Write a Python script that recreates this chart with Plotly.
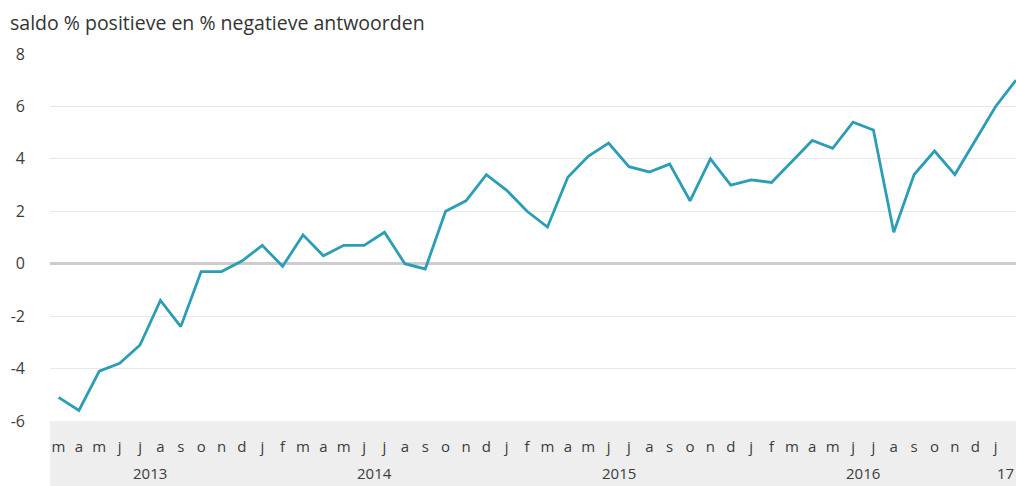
import plotly.graph_objects as go

# Data, monthly from March 2013 to February 2017
month_labels = ["m", "a", "m", "j", "j", "a", "s", "o", "n", "d",
                "j", "f", "m", "a", "m", "j", "j", "a", "s", "o", "n", "d",
                "j", "f", "m", "a", "m", "j", "j", "a", "s", "o", "n", "d",
                "j", "f", "m", "a", "m", "j", "j", "a", "s", "o", "n", "d",
                "j", "f"]
saldo = [-5.1, -5.6, -4.1, -3.8, -3.1, -1.4, -2.4, -0.3, -0.3, 0.1,
         0.7, -0.1, 1.1, 0.3, 0.7, 0.7, 1.2, 0.0, -0.2, 2.0, 2.4, 3.4,
         2.8, 2.0, 1.4, 3.3, 4.1, 4.6, 3.7, 3.5, 3.8, 2.4, 4.0, 3.0,
         3.2, 3.1, 3.9, 4.7, 4.4, 5.4, 5.1, 1.2, 3.4, 4.3, 3.4, 4.7,
         6.0, 7.0]
year_labels = ["2013", "2014", "2015", "2016", "17"]
year_month_counts = [10, 12, 12, 12, 2]
y_ticks = [-6, -4, -2, 0, 2, 4, 6, 8]
y_tick_text = ["-6", "-4", "-2", "0", "2", "4", "6", "8"]
title_text = "saldo % positieve en % negatieve antwoorden"

x_idx = list(range(len(saldo)))

FONT = "Open Sans, Noto Sans, sans-serif"
TEXT = "#3c3c3c"

fig = go.Figure()
fig.add_trace(go.Scatter(
    x=x_idx, y=saldo, mode="lines",
    line=dict(color="#2b9db4", width=2.8),
    hoverinfo="skip", showlegend=False,
))

# year group labels centred under their months
annotations = []
start = 0
for label, n in zip(year_labels, year_month_counts):
    center = start + (n - 1) / 2
    annotations.append(dict(
        x=center, xref="x", y=-0.142, yref="paper",
        text=label, showarrow=False, xanchor="center", yanchor="middle",
        font=dict(family=FONT, size=15, color=TEXT),
    ))
    start += n

annotations.append(dict(
    x=-50 / 966, xref="paper", y=1.0, yref="paper",
    text=title_text, showarrow=False, xanchor="left", yanchor="bottom",
    xshift=8, yshift=16,
    font=dict(family=FONT, size=19.5, color="#333333"),
))

fig.update_layout(
    width=1016, height=486,
    margin=dict(l=50, r=0, t=54, b=65),
    paper_bgcolor="white", plot_bgcolor="white",
    annotations=annotations,
    shapes=[dict(type="rect", xref="paper", yref="paper",
                 x0=0, x1=1, y0=-0.2, y1=0,
                 fillcolor="#eeeeee", line=dict(width=0), layer="below")],
    xaxis=dict(
        range=[-0.42, 47.0],
        tickmode="array", tickvals=x_idx, ticktext=month_labels,
        showgrid=False, zeroline=False, showline=False, ticks="",
        ticklabelstandoff=15,
        tickfont=dict(family=FONT, size=15, color=TEXT),
        fixedrange=True,
    ),
    yaxis=dict(
        range=[-6, 8],
        tickmode="array", tickvals=y_ticks, ticktext=y_tick_text,
        showgrid=True, gridcolor="#e8e8e8", gridwidth=1,
        zeroline=True, zerolinecolor="#cccccc", zerolinewidth=2.5,
        showline=False, ticks="",
        ticklabelstandoff=24,
        tickfont=dict(family=FONT, size=16, color=TEXT),
        fixedrange=True,
    ),
)

fig.write_html(
    "out.html",
    config={"displayModeBar": False},
    post_script="document.body.style.margin='0';document.body.style.padding='0';",
)
